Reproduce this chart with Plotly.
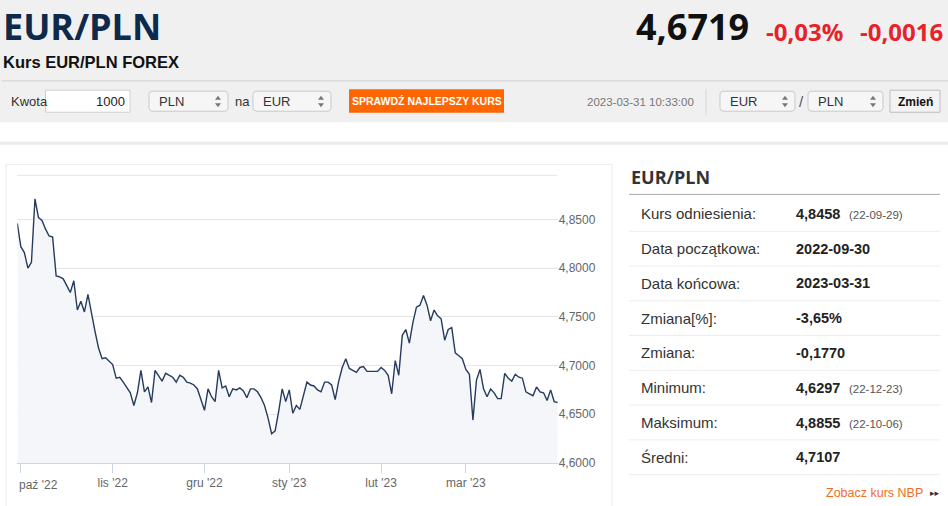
import pandas as pd
import plotly.graph_objects as go

W, H = 948, 506
FIG_H = 514  # zdjęcie strony wychodzi ok. 1,5% niższe, więc figura jest o tyle wyższa

# EUR/PLN, notowania dzienne 2022-09-30 .. 2023-03-31
values = [
    4.846, 4.822, 4.816, 4.800, 4.806, 4.871, 4.852, 4.849, 4.840, 4.833,
    4.832, 4.792, 4.791, 4.789, 4.782, 4.775, 4.787, 4.757, 4.766, 4.755,
    4.773, 4.752, 4.735, 4.718, 4.707, 4.708, 4.705, 4.701, 4.687, 4.688,
    4.683, 4.677, 4.672, 4.659, 4.672, 4.695, 4.673, 4.678, 4.662, 4.695,
    4.690, 4.684, 4.692, 4.690, 4.688, 4.683, 4.690, 4.688, 4.683, 4.682,
    4.680, 4.676, 4.666, 4.654, 4.676, 4.668, 4.663, 4.695, 4.677, 4.679,
    4.668, 4.676, 4.675, 4.677, 4.674, 4.667, 4.676, 4.676, 4.673, 4.667,
    4.659, 4.646, 4.630, 4.633, 4.653, 4.676, 4.663, 4.675, 4.651, 4.659,
    4.655,
    4.669, 4.683, 4.680, 4.679, 4.675, 4.673, 4.683, 4.683, 4.680, 4.665,
    4.684, 4.698, 4.707, 4.697, 4.695, 4.693, 4.698, 4.699, 4.694, 4.694,
    4.694, 4.694, 4.698, 4.695, 4.690, 4.671, 4.705, 4.690, 4.731, 4.737,
    4.723, 4.744, 4.760, 4.762, 4.772, 4.762, 4.746, 4.757, 4.751, 4.748,
    4.726, 4.737, 4.739, 4.713, 4.710, 4.707, 4.696, 4.691, 4.644, 4.685,
    4.696, 4.676, 4.668, 4.676, 4.672, 4.666, 4.666, 4.692, 4.687, 4.684,
    4.691, 4.688, 4.687, 4.673, 4.671, 4.669, 4.678, 4.673, 4.672, 4.664,
    4.675, 4.663, 4.662,
]
dates = pd.bdate_range("2022-09-30", "2023-03-31", freq="C",
                       weekmask="Sun Mon Tue Wed Thu Fri",
                       holidays=["2022-12-25", "2022-12-26", "2023-01-01"])

month_starts = ["2022-10-01", "2022-11-01", "2022-12-01",
                "2023-01-01", "2023-02-01", "2023-03-01"]
month_labels = ["paź '22", "lis '22", "gru '22", "sty '23", "lut '23", "mar '23"]
y_ticks = [4.60, 4.65, 4.70, 4.75, 4.80, 4.85]

stat_labels = ["Kurs odniesienia:", "Data początkowa:", "Data końcowa:", "Zmiana[%]:",
               "Zmiana:", "Minimum:", "Maksimum:", "Średni:"]
stat_values = ["4,8458", "2022-09-30", "2023-03-31", "-3,65%",
               "-0,1770", "4,6297", "4,8855", "4,7107"]
stat_notes = ["(22-09-29)", "", "", "", "", "(22-12-23)", "(22-10-06)", ""]

last_rate = "4,6719"
change_pct = "-0,03%"
change_abs = "-0,0016"
timestamp = "2023-03-31 10:33:00"

tick_idx = [int((dates < pd.Timestamp(m)).sum()) for m in month_starts]

shapes = []
notes = []


def X(x):
    return x / W


def Y(y):
    return 1 - y / H


def rect(x0, y0, x1, y1, fill, line="rgba(0,0,0,0)", lw=1):
    shapes.append(dict(type="rect", xref="paper", yref="paper", layer="below",
                       x0=X(x0), x1=X(x1), y0=Y(y1), y1=Y(y0),
                       fillcolor=fill, line=dict(color=line, width=lw)))


def hline(x0, x1, y, color, lw=1):
    shapes.append(dict(type="line", xref="paper", yref="paper", layer="below",
                       x0=X(x0), x1=X(x1), y0=Y(y), y1=Y(y),
                       line=dict(color=color, width=lw)))


def vline(x, y0, y1, color, lw=1):
    shapes.append(dict(type="line", xref="paper", yref="paper", layer="below",
                       x0=X(x), x1=X(x), y0=Y(y0), y1=Y(y1),
                       line=dict(color=color, width=lw)))


def path(pts, fill, line="rgba(0,0,0,0)"):
    # pts: lista (komenda, [punkty w pikselach])
    d = " ".join(cmd + " ".join(f"{X(a):.5f},{Y(b):.5f}" for a, b in p) for cmd, p in pts)
    shapes.append(dict(type="path", xref="paper", yref="paper", layer="above",
                       path=d + " Z", fillcolor=fill, line=dict(color=line, width=1)))


def rrect(x0, y0, x1, y1, r, fill, line):
    path([("M", [(x0 + r, y0)]), ("L", [(x1 - r, y0)]), ("Q", [(x1, y0), (x1, y0 + r)]),
          ("L", [(x1, y1 - r)]), ("Q", [(x1, y1), (x1 - r, y1)]),
          ("L", [(x0 + r, y1)]), ("Q", [(x0, y1), (x0, y1 - r)]),
          ("L", [(x0, y0 + r)]), ("Q", [(x0, y0), (x0 + r, y0)])], fill, line)


def text(x, y, s, size, color="#333", family="Liberation Sans", anchor="left", bold=False):
    notes.append(dict(xref="paper", yref="paper", x=X(x), y=Y(y), text=f"<b>{s}</b>" if bold else s,
                      showarrow=False, xanchor=anchor, yanchor="middle",
                      font=dict(family=family, size=size, color=color)))


def select(x0, x1, label):
    rrect(x0, 91, x1, 111, 4, "#f6f6f6", "#c9c9c9")
    text(x0 + 8, 101.5, label, 13)
    ax = x1 - 10
    path([("M", [(ax - 3, 99.5)]), ("L", [(ax + 3, 99.5)]), ("L", [(ax, 95.5)])], "#777")
    path([("M", [(ax - 3, 103)]), ("L", [(ax + 3, 103)]), ("L", [(ax, 107)])], "#777")


# nagłówek strony
rect(0, 0, W, 122, "#f0f0f0")
hline(2, W, 80.5, "#dadada", 1.5)
text(1, 26, "EUR/PLN", 36, "#0d2a4c", "Open Sans", bold=True)
text(1, 62, "Kurs EUR/PLN FOREX", 16.5, "#111", bold=True)
text(751, 26, last_rate, 36, "#111", "Open Sans", anchor="right", bold=True)
text(845, 31, change_pct, 24, "#e8222a", "Open Sans", anchor="right", bold=True)
text(945, 31, change_abs, 24, "#e8222a", "Open Sans", anchor="right", bold=True)

# pasek kalkulatora
text(9, 101.5, "Kwota", 13)
rect(45.5, 90, 130, 112, "#ffffff", "#cfcfcf")
text(127, 101.5, "1000", 13, "#222", anchor="right")
select(149, 228, "PLN")
text(233, 101.5, "na", 13)
select(253, 331, "EUR")
rect(349, 89, 504, 112.5, "#ff6600")
text(426.5, 101, "SPRAWDŹ NAJLEPSZY KURS", 10.5, "#ffffff", anchor="center", bold=True)
text(696, 101.5, timestamp, 11.5, "#777", anchor="right")
vline(706, 89, 115, "#d8d8d8")
select(720, 795, "EUR")
text(801.5, 101.5, "/", 15, "#555", anchor="center")
select(808, 883, "PLN")
rect(890, 90, 940, 112, "#f3f3f3", "#bdbdbd")
text(915, 101.5, "Zmień", 12, "#111", anchor="center", bold=True)

# ramka wykresu
hline(0, W, 143, "#ececec", 3)
rect(6, 164, 612, 505.5, "#ffffff", "#ebebeb")
shapes.append(dict(type="line", xref="x domain", yref="paper", x0=0, x1=1,
                   y0=Y(175), y1=Y(175), line=dict(color="#e6e6e6", width=1)))
notes.append(dict(xref="x", yref="paper", x=tick_idx[0] - 1, y=Y(484), text=month_labels[0],
                  showarrow=False, xanchor="left", yanchor="middle",
                  font=dict(family="Liberation Sans", size=12, color="#666")))

# panel statystyk
text(629, 177, "EUR/PLN", 18, "#333", "Open Sans", bold=True)
hline(629, 940, 194, "#a8a8a8")
for i, (lab, val, nt) in enumerate(zip(stat_labels, stat_values, stat_notes)):
    yc = 213.5 + i * 34.7
    text(639, yc, lab, 15, "#333")
    text(794, yc, val, 14.5, "#222", bold=True)
    if nt:
        text(847, yc + 1, nt, 11.5, "#555")
    hline(629, 940, yc + 17.3, "#ececec")
text(925, 492, "Zobacz kurs NBP", 12.5, "#f26d21", anchor="right")
text(928, 492, "▸▸", 9, "#333", "DejaVu Sans")

fig = go.Figure()
fig.add_trace(go.Scatter(
    x=list(range(len(values))), y=values, mode="lines",
    line=dict(color="#263b5e", width=1.4),
    fill="tozeroy", fillcolor="#f4f6f9", hoverinfo="skip",
))

fig.update_layout(
    width=W, height=FIG_H, margin=dict(l=0, r=0, t=0, b=0),
    paper_bgcolor="#ffffff", plot_bgcolor="#ffffff",
    showlegend=False, separators=", ",
    shapes=shapes, annotations=notes,
    xaxis=dict(
        domain=[X(17.3), X(557.7)], range=[0, len(values) - 1],
        tickvals=tick_idx, ticktext=[""] + month_labels[1:],
        ticks="outside", ticklen=9, tickcolor="#ccd6eb",
        showline=True, linecolor="#ccd6eb", showgrid=False, zeroline=False,
        tickfont=dict(family="Liberation Sans", size=12, color="#666"),
    ),
    yaxis=dict(
        domain=[Y(462), Y(175)], range=[4.6, 4.8953], side="right",
        tickvals=y_ticks, tickformat=".4f",
        gridcolor="#e6e6e6", zeroline=False, showline=False, ticks="",
        tickfont=dict(family="Liberation Sans", size=12, color="#666"),
    ),
)

# strona bez marginesów
page_js = """
document.documentElement.style.overflow = 'hidden';
document.body.style.margin = '0';
document.body.style.overflow = 'hidden';
"""
fig.write_html("out.html", config={"displayModeBar": False, "staticPlot": True},
               post_script=page_js)
